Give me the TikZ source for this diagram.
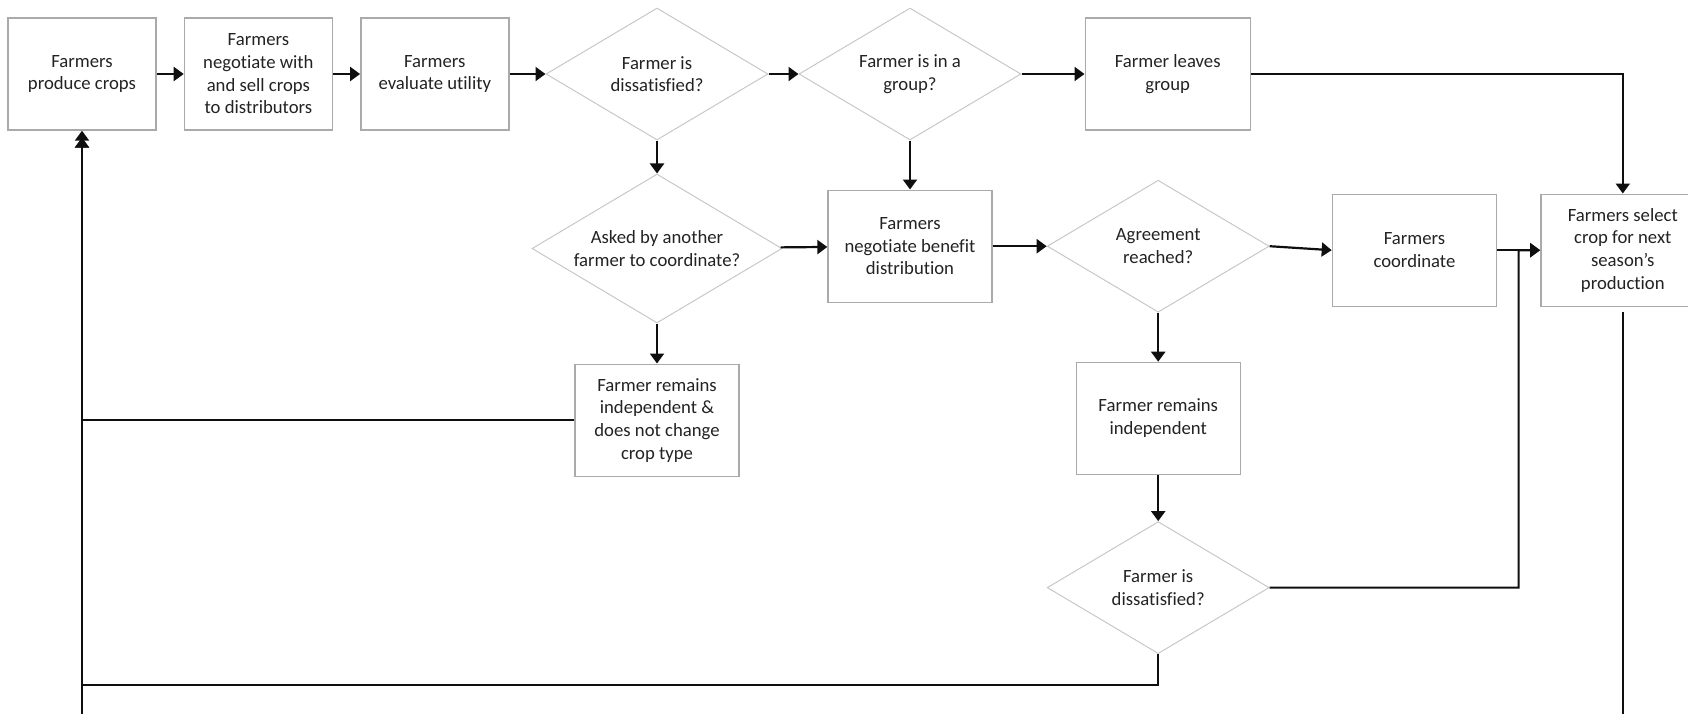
\documentclass[tikz,border=0pt]{standalone}
\usepackage{fontspec}
\setmainfont{Carlito}[Ligatures=NoCommon]
\usetikzlibrary{shapes.geometric,arrows.meta,positioning,calc}
\definecolor{boxbdr}{RGB}{170,170,170}
\definecolor{dmdbdr}{RGB}{200,200,200}
\definecolor{txtclr}{RGB}{35,35,35}
\definecolor{lnclr}{RGB}{15,15,15}
\tikzset{
  %% process block (first row)
  pblk/.style={rectangle,draw=boxbdr,line width=1.4pt,fill=white,
    minimum width=148pt,minimum height=112pt,inner sep=2pt,
    font=\fontsize{18.7}{22.7}\selectfont,align=center,text=txtclr},
  %% wider process block
  wblk/.style={pblk,minimum width=164pt},
  %% decision diamond
  dblk/.style={diamond,draw=dmdbdr,line width=1pt,fill=white,
    minimum width=222pt,minimum height=132pt,inner sep=0pt,shape aspect=1.68,
    font=\fontsize{18.7}{22.7}\selectfont,align=center,text=txtclr},
  %% arrows
  arr/.style={-{Triangle[length=10pt,width=14pt]},line width=2.2pt,color=lnclr},
}

\begin{document}
\begin{tikzpicture}[x=1pt,y=1pt]
  \useasboundingbox (0,0) rectangle (1688,-713);
  \clip (0,0) rectangle (1688,-713);
  %% top row
  \node[pblk] (produce) at (82,-74) {Farmers\\produce crops};
  \node[pblk,right=27pt of produce] (sell)  {Farmers\\negotiate with\\and sell crops\\to distributors};
  \node[pblk,right=27pt of sell]    (evalu) {Farmers\\evaluate utility};
  \node[dblk,right=36pt of evalu]   (dissat) {Farmer is\\dissatisfied?};
  \node[dblk,right=30pt of dissat]  (ingrp)  {Farmer is in a\\group?};
  \node[pblk,minimum width=165pt,right=63pt of ingrp] (leave) {Farmer leaves\\group};
  %% middle row
  \node[dblk,minimum width=250pt,minimum height=149pt,below=33pt of dissat] (asked) {Asked by another\\farmer to coordinate?};
  \node[wblk,below=49pt of ingrp]   (benefit) {Farmers\\negotiate benefit\\distribution};
  \node[dblk,right=54pt of benefit] (agree)   {Agreement\\reached?};
  \node[wblk,right=62pt of agree,yshift=-4pt] (coord) {Farmers\\coordinate};
  \node[wblk,right=43pt of coord]   (select)  {Farmers select\\crop for next\\season\char"0027s\\production};
  %% lower rows
  \node[wblk,below=40pt of asked]   (indepa)  {Farmer remains\\independent \&\\does not change\\crop type};
  \node[wblk,below=49pt of agree]   (indepb)  {Farmer remains\\independent};
  \node[dblk,below=46pt of indepb]  (dissatb) {Farmer is\\dissatisfied?};
  \coordinate (jn)  at ($(coord.east)!0.5!(select.west)$);
  \coordinate (low) at ([yshift=-620pt]produce.south);

  \draw[arr] (produce) -- (sell);
  \draw[arr] (sell) -- (evalu);
  \draw[arr] (evalu) -- (dissat);
  \draw[arr] (dissat) -- (ingrp);
  \draw[arr] (ingrp) -- (leave);
  \draw[arr] (leave.east) -| (select.north);
  \draw[arr] (dissat) -- (asked);
  \draw[arr] (ingrp) -- (benefit);
  \draw[arr] (asked) -- (benefit);
  \draw[arr] (benefit) -- (agree);
  \draw[arr] (agree.east) -- (coord.west);
  \draw[arr] (coord) -- (select);
  \draw[arr] (asked) -- (indepa);
  \draw[arr] (agree) -- (indepb);
  \draw[arr] (indepb) -- (dissatb);
  \draw[arr] (dissatb.east) -| (jn) -- (select.west);
  \draw[arr] (indepa.west) -| (produce.south);
  \draw[arr,shorten >=7pt] (dissatb.south) -- ++(0,-31) -| (produce.south);
  \draw[arr,shorten >=7pt] ([yshift=-5pt]select.south) |- (low) -- (produce.south);
\end{tikzpicture}
\end{document}
